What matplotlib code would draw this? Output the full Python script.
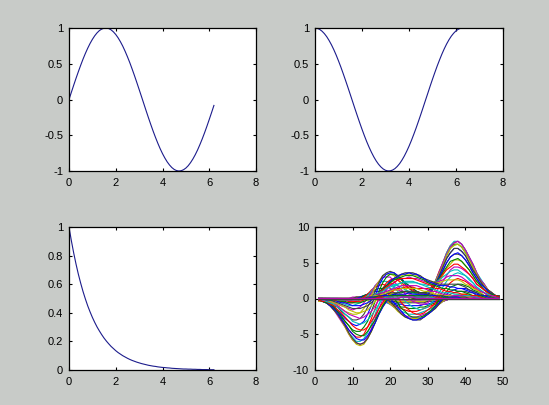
import numpy as np
import matplotlib
matplotlib.use("Agg")
from matplotlib import pyplot as plt

plt.rcParams['font.family'] = ['Liberation Sans', 'DejaVu Sans']
plt.rcParams['axes.unicode_minus'] = False

BG = '#c8cbc8'
LINE = '#1c1c8c'

# top left / top right / bottom left: one value every 0.1 from 0 to 6.2
sin_vals = [0.000, 0.100, 0.199, 0.296, 0.389, 0.479, 0.565, 0.644, 0.717, 0.783,
            0.841, 0.891, 0.932, 0.964, 0.985, 0.997, 1.000, 0.992, 0.974, 0.946,
            0.909, 0.863, 0.808, 0.746, 0.675, 0.598, 0.516, 0.427, 0.335, 0.239,
            0.141, 0.042, -0.058, -0.158, -0.256, -0.351, -0.443, -0.530, -0.612, -0.688,
            -0.757, -0.818, -0.872, -0.916, -0.952, -0.978, -0.994, -1.000, -0.996, -0.982,
            -0.959, -0.926, -0.883, -0.832, -0.773, -0.706, -0.631, -0.551, -0.465, -0.374,
            -0.279, -0.182, -0.083]
cos_vals = [1.000, 0.995, 0.980, 0.955, 0.921, 0.878, 0.825, 0.765, 0.697, 0.622,
            0.540, 0.454, 0.362, 0.267, 0.170, 0.071, -0.029, -0.129, -0.227, -0.323,
            -0.416, -0.505, -0.589, -0.666, -0.737, -0.801, -0.857, -0.904, -0.942, -0.971,
            -0.990, -0.999, -0.998, -0.987, -0.967, -0.936, -0.897, -0.848, -0.791, -0.726,
            -0.654, -0.575, -0.490, -0.401, -0.307, -0.211, -0.112, -0.012, 0.087, 0.187,
            0.284, 0.378, 0.469, 0.554, 0.635, 0.709, 0.776, 0.835, 0.886, 0.927,
            0.960, 0.983, 0.997]
decay_vals = [1.000, 0.905, 0.819, 0.741, 0.670, 0.607, 0.549, 0.497, 0.449, 0.407,
              0.368, 0.333, 0.301, 0.273, 0.247, 0.223, 0.202, 0.183, 0.165, 0.150,
              0.135, 0.122, 0.111, 0.100, 0.091, 0.082, 0.074, 0.067, 0.061, 0.055,
              0.050, 0.045, 0.041, 0.037, 0.033, 0.030, 0.027, 0.025, 0.022, 0.020,
              0.018, 0.017, 0.015, 0.014, 0.012, 0.011, 0.010, 0.009, 0.008, 0.007,
              0.007, 0.006, 0.006, 0.005, 0.005, 0.004, 0.004, 0.003, 0.003, 0.003,
              0.002, 0.002, 0.002]

# bottom right: 49 curves over 49 samples, stored row by row (one row = one sample
# position), in steps of 0.2; each row is (first nonzero curve, values), rest is 0
PEAKS_STEP = 0.2
peaks_rows = [
    (21, [-1, -1, -1, -1, -2, -2, -1, -1, -1, -1]),
    (19, [-1, -1, -2, -2, -2, -2, -2, -2, -2, -2, -2, -2, -1, -1]),
    (17, [-1, -1, -2, -2, -2, -3, -3, -3, -3, -3, -3, -3, -3, -2, -2, -1, -1, -1, -1]),
    (16, [-1, -1, -2, -2, -3, -4, -4, -5, -5, -5, -5, -5, -5, -4, -4, -3, -2, -2, -1, -1, -1]),
    (15, [-1, -1, -2, -3, -4, -5, -6, -7, -7, -8, -8, -8, -8, -7, -6, -5, -4, -3, -3, -2, -1, -1, -1]),
    (15, [-1, -2, -3, -4, -5, -6, -8, -9, -10, -11, -12, -11, -11, -10, -9, -8, -6, -5, -4, -3, -2, -1, -1, -1]),
    (14, [-1, -1, -2, -3, -5, -7, -9, -11, -13, -14, -15, -16, -15, -15, -14, -12, -10, -8, -7, -5, -4, -3, -2,
          -1, -1]),
    (14, [-1, -1, -3, -4, -6, -9, -11, -14, -16, -18, -19, -20, -20, -19, -18, -16, -13, -11, -9, -6, -5, -3, -2,
          -1, -1, -1]),
    (14, [-1, -2, -3, -5, -7, -10, -13, -16, -19, -22, -24, -25, -25, -24, -22, -19, -16, -13, -11, -8, -6, -4, -3,
          -2, -1, -1]),
    (11, [1, 0, 0, 0, -1, -3, -5, -8, -11, -15, -18, -22, -25, -27, -29, -29, -28, -25, -23, -19, -16, -12, -9, -7,
          -5, -3, -2, -1, -1]),
    (10, [1, 1, 1, 1, 0, -1, -2, -4, -7, -11, -15, -19, -23, -27, -30, -31, -32, -31, -28, -25, -21, -17, -13, -10,
          -7, -5, -3, -2, -1, -1]),
    (9, [1, 1, 1, 1, 1, 1, 0, -1, -3, -6, -10, -14, -18, -23, -27, -30, -32, -33, -32, -29, -26, -22, -18, -14, -10,
         -7, -5, -3, -2, -1]),
    (9, [1, 1, 1, 2, 2, 2, 2, 1, -1, -3, -7, -11, -16, -20, -25, -28, -31, -32, -31, -29, -26, -22, -17, -13, -9,
         -6, -4, -2, -1]),
    (9, [1, 1, 1, 2, 3, 3, 3, 3, 2, 0, -3, -6, -11, -16, -20, -24, -27, -28, -28, -26, -23, -20, -15, -11, -8, -5,
         -3, -1, 0, 0, 1, 1, 1]),
    (10, [1, 1, 2, 3, 4, 5, 6, 5, 4, 2, -1, -5, -9, -14, -18, -21, -23, -23, -22, -19, -16, -12, -9, -5, -3, -1, 0,
          1, 1, 1, 1, 1, 1]),
    (11, [1, 2, 3, 5, 6, 8, 9, 9, 8, 5, 2, -2, -7, -11, -14, -17, -17, -17, -15, -12, -8, -5, -2, 0, 1, 2, 3, 3, 2,
          2, 1, 1, 1]),
    (6, [-1, -1, -1, -1, 0, 0, 2, 3, 5, 7, 9, 11, 12, 12, 11, 9, 5, 1, -4, -7, -10, -11, -11, -10, -7, -4, -1, 1, 3,
         4, 4, 4, 4, 3, 2, 2, 1, 1, 1]),
    (5, [-1, -1, -1, -1, -1, -1, -1, 0, 2, 4, 7, 10, 12, 15, 16, 16, 14, 11, 7, 3, -1, -4, -6, -6, -5, -3, 0, 2, 5,
         6, 7, 7, 6, 5, 4, 3, 2, 2, 1, 1]),
    (4, [-1, -1, -1, -2, -2, -2, -3, -2, -1, 0, 2, 5, 9, 12, 15, 17, 18, 17, 15, 11, 7, 3, 0, -2, -2, -1, 1, 3, 6, 8,
         9, 9, 9, 8, 7, 5, 4, 3, 2, 1, 1, 1]),
    (3, [-1, -1, -1, -2, -2, -3, -4, -4, -4, -4, -2, 0, 3, 7, 11, 15, 17, 19, 18, 17, 13, 9, 6, 3, 1, 1, 2, 4, 6, 9,
         11, 12, 12, 11, 10, 8, 6, 5, 4, 2, 2, 1, 1]),
    (3, [-1, -1, -2, -2, -3, -4, -5, -6, -6, -6, -5, -3, 0, 4, 8, 12, 16, 18, 18, 17, 14, 10, 6, 4, 2, 2, 3, 6, 8,
         11, 13, 14, 14, 13, 11, 9, 7, 6, 4, 3, 2, 1, 1]),
    (3, [-1, -1, -2, -3, -4, -5, -6, -7, -8, -9, -8, -6, -3, 1, 5, 9, 13, 16, 16, 15, 13, 9, 6, 3, 2, 2, 4, 7, 10,
         13, 15, 16, 15, 14, 13, 10, 8, 6, 4, 3, 2, 1, 1]),
    (2, [-1, -1, -1, -2, -3, -4, -6, -7, -9, -10, -11, -11, -9, -7, -3, 2, 6, 10, 13, 14, 13, 11, 8, 5, 3, 2, 2, 4,
         7, 11, 14, 16, 17, 17, 15, 14, 11, 9, 7, 5, 3, 2, 1, 1, 1]),
    (2, [-1, -1, -1, -2, -3, -5, -6, -8, -10, -12, -13, -13, -12, -9, -6, -2, 3, 7, 10, 11, 11, 9, 6, 4, 2, 1, 2, 5,
         8, 11, 14, 17, 18, 17, 16, 14, 12, 9, 7, 5, 3, 2, 1, 1, 1]),
    (2, [-1, -1, -2, -2, -3, -5, -7, -9, -11, -13, -14, -14, -14, -12, -8, -4, 0, 4, 7, 9, 9, 7, 5, 3, 1, 1, 2, 4, 8,
         11, 15, 17, 18, 18, 16, 14, 12, 9, 7, 5, 4, 2, 1, 1, 1]),
    (2, [-1, -1, -2, -2, -3, -5, -7, -9, -11, -13, -14, -15, -15, -13, -10, -6, -2, 2, 5, 7, 7, 6, 4, 2, 0, 0, 2, 4,
         8, 11, 14, 17, 18, 17, 16, 14, 12, 9, 7, 5, 3, 2, 1, 1, 1]),
    (2, [-1, -1, -1, -2, -3, -5, -7, -9, -11, -13, -14, -15, -15, -13, -11, -7, -3, 1, 3, 5, 5, 4, 3, 1, 0, 0, 1, 4,
         7, 11, 14, 16, 17, 17, 15, 13, 11, 9, 7, 5, 3, 2, 1, 1]),
    (2, [-1, -1, -1, -2, -3, -5, -6, -8, -10, -12, -14, -15, -14, -13, -11, -8, -4, 0, 2, 4, 4, 3, 2, 1, 0, 0, 1, 4,
         7, 10, 13, 15, 16, 15, 14, 12, 10, 8, 6, 4, 3, 2, 1, 1]),
    (3, [-1, -1, -2, -3, -4, -6, -7, -9, -11, -12, -13, -13, -12, -10, -7, -4, -1, 2, 4, 4, 3, 2, 1, 0, 1, 2, 4, 7,
         10, 12, 14, 14, 14, 13, 11, 9, 7, 5, 4, 3, 2, 1, 1]),
    (3, [-1, -1, -2, -2, -4, -5, -6, -8, -10, -11, -11, -11, -10, -8, -6, -3, 0, 3, 4, 5, 5, 4, 3, 2, 2, 3, 5, 7, 9,
         11, 12, 13, 12, 11, 10, 8, 6, 5, 3, 2, 2, 1, 1]),
    (3, [-1, -1, -1, -2, -3, -4, -5, -7, -8, -9, -9, -9, -8, -6, -3, 0, 3, 5, 7, 8, 8, 7, 6, 6, 5, 6, 7, 8, 10, 11,
         12, 12, 11, 10, 9, 7, 5, 4, 3, 2, 1, 1, 1]),
    (4, [-1, -1, -2, -2, -3, -4, -5, -6, -7, -7, -6, -5, -3, 0, 3, 6, 9, 11, 12, 12, 12, 11, 11, 10, 10, 10, 10, 11,
         11, 11, 11, 10, 9, 7, 6, 5, 3, 2, 2, 1, 1]),
    (4, [-1, -1, -1, -2, -2, -3, -4, -4, -4, -4, -3, -1, 1, 4, 8, 11, 14, 16, 18, 19, 18, 18, 17, 16, 15, 14, 13, 13,
         12, 11, 10, 9, 8, 7, 5, 4, 3, 2, 1, 1, 1]),
    (5, [-1, -1, -1, -2, -2, -2, -2, -2, -1, 0, 2, 5, 8, 12, 16, 19, 22, 24, 25, 25, 25, 23, 22, 20, 18, 17, 15, 13,
         12, 10, 9, 7, 6, 4, 3, 2, 2, 1, 1]),
    (6, [-1, -1, -1, -1, -1, -1, 0, 1, 3, 5, 8, 12, 16, 21, 25, 28, 30, 32, 32, 31, 30, 28, 25, 22, 20, 17, 15, 13,
         10, 9, 7, 5, 4, 3, 2, 1, 1, 1]),
    (12, [1, 3, 5, 8, 11, 15, 20, 24, 29, 32, 35, 37, 37, 36, 35, 32, 29, 26, 22, 19, 16, 13, 10, 8, 6, 5, 4, 2, 2,
          1, 1]),
    (10, [1, 1, 2, 4, 6, 9, 13, 17, 22, 27, 31, 35, 38, 39, 40, 39, 37, 35, 31, 27, 24, 20, 16, 13, 10, 8, 6, 4, 3,
          2, 1, 1, 1]),
    (10, [1, 2, 3, 5, 7, 10, 14, 18, 22, 27, 31, 35, 38, 40, 40, 40, 38, 35, 32, 28, 24, 20, 16, 13, 10, 7, 5, 4, 3,
          2, 1, 1, 1]),
    (9, [1, 1, 2, 3, 5, 7, 10, 13, 17, 21, 26, 30, 33, 36, 38, 38, 38, 36, 33, 30, 26, 22, 18, 15, 12, 9, 7, 5, 3,
         2, 2, 1, 1]),
    (9, [1, 1, 2, 3, 5, 7, 9, 12, 16, 19, 23, 27, 30, 32, 34, 34, 34, 32, 30, 27, 23, 20, 16, 13, 10, 8, 6, 4, 3, 2,
         1, 1, 1]),
    (9, [1, 1, 2, 3, 4, 6, 8, 10, 13, 17, 20, 23, 25, 28, 29, 29, 29, 27, 25, 23, 20, 17, 14, 11, 9, 6, 5, 3, 2, 2,
         1, 1]),
    (10, [1, 2, 2, 4, 5, 6, 8, 11, 14, 16, 18, 20, 22, 24, 24, 24, 22, 20, 18, 16, 14, 11, 9, 7, 5, 4, 2, 2, 1, 1]),
    (10, [1, 1, 2, 2, 4, 5, 6, 8, 10, 12, 14, 16, 17, 18, 18, 18, 17, 16, 14, 12, 10, 8, 7, 6, 4, 3, 2, 2, 1]),
    (11, [1, 2, 2, 2, 4, 5, 6, 8, 9, 10, 12, 12, 13, 14, 13, 12, 12, 10, 9, 8, 6, 5, 4, 3, 2, 2, 1]),
    (12, [1, 2, 2, 2, 4, 4, 6, 6, 8, 8, 9, 10, 10, 10, 9, 8, 8, 6, 6, 4, 4, 2, 2, 2, 1]),
    (13, [1, 2, 2, 2, 3, 4, 4, 5, 6, 6, 6, 6, 6, 6, 6, 5, 4, 4, 3, 2, 2, 2, 1]),
    (14, [1, 1, 2, 2, 2, 3, 3, 4, 4, 4, 4, 4, 4, 4, 3, 3, 2, 2, 2, 1, 1]),
    (16, [1, 1, 2, 2, 2, 2, 2, 2, 2, 2, 2, 2, 2, 2, 2, 1, 1]),
    (18, [1, 1, 1, 2, 2, 2, 2, 2, 2, 2, 1, 1, 1]),
]
N_CURVES = 49

# MATLAB's old default line colour order
colors = [(0, 0, 1), (0, 0.5, 0), (1, 0, 0), (0, 0.75, 0.75),
          (0.75, 0, 0.75), (0.75, 0.75, 0), (0.25, 0.25, 0.25)]

peaks = np.zeros((len(peaks_rows), N_CURVES))
for i, (start, vals) in enumerate(peaks_rows):
    peaks[i, start:start + len(vals)] = np.array(vals) * PEAKS_STEP


def style(ax, xt, yt, ylabels):
    """ MATLAB look: boxed axes, inward ticks on all four sides """
    ax.set_xticks(xt)
    ax.set_yticks(yt)
    ax.set_yticklabels(ylabels)
    ax.tick_params(direction='in', top=True, right=True, length=2.5, width=0.8,
                   labelsize=8)
    ax.tick_params(axis='x', pad=5)
    ax.tick_params(axis='y', pad=4.3)
    for s in ax.spines.values():
        s.set_linewidth(0.9)


fig = plt.figure(figsize=(5.49, 4.05), dpi=100, facecolor=BG)
t = np.arange(len(sin_vals)) * 0.1

ax1 = fig.add_axes([69 / 549, 234 / 405, 187 / 549, 143 / 405])
ax1.plot(t, sin_vals, color=LINE, lw=0.8)
ax1.set_xlim(0, 8)
ax1.set_ylim(-1, 1)
style(ax1, [0, 2, 4, 6, 8], [-1, -0.5, 0, 0.5, 1], ['-1', '-0.5', '0', '0.5', '1'])

ax2 = fig.add_axes([315 / 549, 234 / 405, 188 / 549, 143 / 405])
ax2.plot(t, cos_vals, color=LINE, lw=0.8)
ax2.set_xlim(0, 8)
ax2.set_ylim(-1, 1)
style(ax2, [0, 2, 4, 6, 8], [-1, -0.5, 0, 0.5, 1], ['-1', '-0.5', '0', '0.5', '1'])

ax3 = fig.add_axes([69 / 549, 35 / 405, 187 / 549, 143 / 405])
ax3.plot(t, decay_vals, color=LINE, lw=0.8)
ax3.set_xlim(0, 8)
ax3.set_ylim(0, 1)
style(ax3, [0, 2, 4, 6, 8], [0, 0.2, 0.4, 0.6, 0.8, 1], ['0', '0.2', '0.4', '0.6', '0.8', '1'])

ax4 = fig.add_axes([315 / 549, 35 / 405, 188 / 549, 143 / 405])
xs = np.arange(1, len(peaks_rows) + 1)
for j in range(N_CURVES):
    ax4.plot(xs, peaks[:, j], color=colors[j % len(colors)], lw=0.8)
ax4.set_xlim(0, 50)
ax4.set_ylim(-10, 10)
style(ax4, [0, 10, 20, 30, 40, 50], [-10, -5, 0, 5, 10], ['-10', '-5', '0', '5', '10'])

fig.savefig('out.png', dpi=100, facecolor=BG)
